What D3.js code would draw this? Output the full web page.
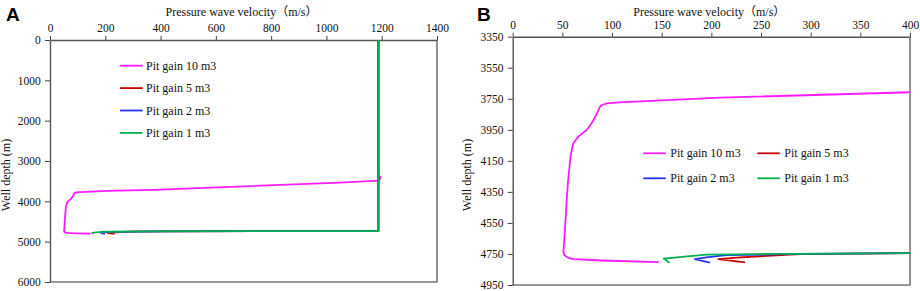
<!DOCTYPE html>
<html><head><meta charset="utf-8">
<script src="https://cdn.jsdelivr.net/npm/d3@7"></script>
<style>body{margin:0;background:#fff}svg{display:block}
svg text.s{font-family:"Liberation Serif","DejaVu Serif","Noto Sans CJK SC",serif}
svg text.b{font-family:"Liberation Sans","DejaVu Sans",sans-serif}
</style>
</head><body><svg id="c" width="920" height="291"></svg>
<script>
// ---- data ----
const seriesNames = ["Pit gain 10 m3", "Pit gain 5 m3", "Pit gain 2 m3", "Pit gain 1 m3"];
const seriesColors = ["#ff1aff", "#cc0000", "#2233ff", "#00b050"];
// [velocity (m/s), well depth (m)]
const pit10 = [[1188,0],[1188,3380],[1196,3400],[1194,3440],[1190,3485],[1049,3535],[724,3622],[400,3708],[209,3743],[108,3773],[95,3779],[90,3790],[88,3801],[84,3855],[79.5,3908],[74.5,3951],[66,3994],[61,4037],[58.4,4112],[57,4200],[55.5,4300],[54.4,4402],[53,4550],[51.5,4700],[51,4735],[52,4757],[55,4772],[61,4783],[90,4792],[147,4802]];
const pit5 = [[1188,0],[1188,4736],[800,4740],[400,4745],[289,4751],[256,4762],[222,4775],[207,4783],[234,4804]];
const pit2 = [[1188,0],[1188,4736],[800,4740],[400,4745],[289,4750],[215,4757],[195,4772],[183.5,4783],[198.6,4806]];
const pit1 = [[1188,0],[1188,4736],[800,4740],[400,4745],[289,4749],[195,4754],[168,4771],[152,4780],[158,4806]];
const seriesData = [pit10, pit5, pit2, pit1];
const ticksAx = [0,200,400,600,800,1000,1200,1400];
const ticksAy = [0,1000,2000,3000,4000,5000,6000];
const ticksBx = [0,50,100,150,200,250,300,350,400];
const ticksBy = [3350,3550,3750,3950,4150,4350,4550,4750,4950];

const svg = d3.select("#c");

function panel(id, letter, box, xd, yd, xt, yt, legendFn) {
  const x = d3.scaleLinear().domain(xd).range([box.l, box.r]);
  const y = d3.scaleLinear().domain(yd).range([box.t, box.b]);
  const g = svg.append("g");
  g.append("clipPath").attr("id", "clip" + id).append("rect")
    .attr("x", box.l).attr("y", box.t).attr("width", box.r - box.l).attr("height", box.b - box.t);
  g.append("path").attr("d", `M${box.r},${box.t}V${box.b}H${box.l}`)
    .attr("fill", "none").attr("stroke", "#777").attr("stroke-width", 1.6);
  const ax = g.append("g").attr("transform", `translate(0,${box.t})`)
    .call(d3.axisTop(x).tickValues(xt).tickSize(4).tickSizeOuter(0).tickFormat(d3.format("d")));
  const ay = g.append("g").attr("transform", `translate(${box.l},0)`)
    .call(d3.axisLeft(y).tickValues(yt).tickSize(5).tickSizeOuter(0).tickFormat(d3.format("d")));
  [ax, ay].forEach(a => {
    a.attr("font-family", null);
    a.select(".domain").attr("stroke", "#555").attr("stroke-width", 1.4);
    a.selectAll(".tick line").attr("stroke", "#444");
    a.selectAll("text").attr("class", "s").attr("font-size", 11.5).attr("fill", "#111");
  });
  ax.selectAll("text").attr("dy", "-0.1em");
  ay.selectAll("text").attr("dx", "-0.1em");
  const line = d3.line().x(d => x(d[0])).y(d => y(d[1]));
  const lg = g.append("g").attr("clip-path", `url(#clip${id})`);
  seriesData.forEach((s, i) => {
    lg.append("path").datum(s).attr("d", line).attr("fill", "none")
      .attr("stroke", seriesColors[i]).attr("stroke-width", 1.8).attr("stroke-linejoin", "round");
  });
  g.append("text").attr("class", "s").attr("x", (box.l + box.r) / 2 - 2).attr("y", 16).attr("text-anchor", "middle")
    .attr("font-size", 12).attr("fill", "#111")
    .text("Pressure wave velocity（m/s）");
  g.append("text").attr("class", "s").attr("transform", `translate(${box.lab},175) rotate(-90)`).attr("text-anchor", "middle")
    .attr("font-size", 12).attr("fill", "#111").text("Well depth (m)");
  g.append("text").attr("class", "b").attr("x", box.lx).attr("y", 21)
    .attr("font-weight", "bold").attr("font-size", 19).attr("fill", "#000").text(letter);
  legendFn(g);
}

panel("A", "A", {l: 50, r: 437, t: 40, b: 282, lab: 10, lx: 6}, [0, 1400], [0, 6000], ticksAx, ticksAy, g => {
  seriesNames.forEach((n, i) => {
    const yy = 65.7 + i * 22.4;
    g.append("line").attr("x1", 120).attr("x2", 142.7).attr("y1", yy).attr("y2", yy)
      .attr("stroke", seriesColors[i]).attr("stroke-width", 1.8);
    g.append("text").attr("class", "s").attr("x", 146).attr("y", yy + 4)
      .attr("font-size", 12).attr("fill", "#111").text(n);
  });
});

panel("B", "B", {l: 512.7, r: 910, t: 36.7, b: 285, lab: 471, lx: 477}, [0, 400], [3350, 4950], ticksBx, ticksBy, g => {
  const pos = [[643.3, 153.3], [757.3, 153.3], [643.3, 178.3], [757.3, 178.3]];
  seriesNames.forEach((n, i) => {
    const [xx, yy] = pos[i];
    g.append("line").attr("x1", xx).attr("x2", xx + 22.5).attr("y1", yy).attr("y2", yy)
      .attr("stroke", seriesColors[i]).attr("stroke-width", 1.8);
    g.append("text").attr("class", "s").attr("x", xx + 27).attr("y", yy + 4)
      .attr("font-size", 12).attr("fill", "#111").text(n);
  });
});
</script></body></html>
